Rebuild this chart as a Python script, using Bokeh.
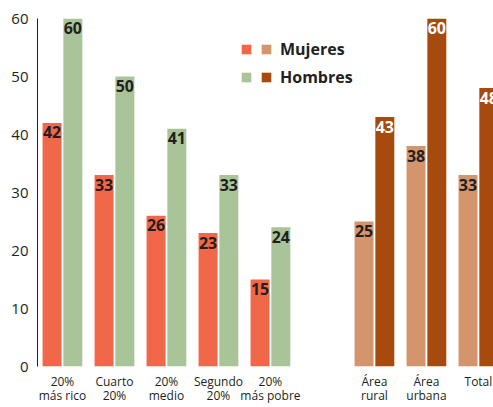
import numpy as np
from bokeh.plotting import figure
from bokeh.models import Range1d, FixedTicker, Legend, LegendItem, ColumnDataSource
from bokeh.core.properties import value
from bokeh.embed import file_html
from bokeh.resources import INLINE

# ---- data ----
quintiles = ["20%\nmás rico", "Cuarto\n20%", "20%\nmedio", "Segundo\n20%", "20%\nmás pobre"]
areas = ["Área\nrural", "Área\nurbana", "Total"]
mujeres_quintil = [42, 33, 26, 23, 15]
hombres_quintil = [60, 50, 41, 33, 24]
mujeres_area = [25, 38, 33]
hombres_area = [43, 60, 48]
y_ticks = [0, 10, 20, 30, 40, 50, 60]
series_names = ["Mujeres", "Hombres"]

# ---- styles ----
C_MQ = "#F1674A"
C_HQ = "#A8C498"
C_MA = "#D4956D"
C_HA = "#A64A0D"
DARK = "#231F20"
FONT = "Open Sans"
BAR_W = 0.365
DODGE = 0.2

# positions: quintiles then a one-slot gap then areas
xq = np.arange(len(quintiles)).astype(float)
xa = len(quintiles) + 1 + np.arange(len(areas)).astype(float)

p = figure(width=493, height=407,
           x_range=Range1d(-0.48, 8.29), y_range=Range1d(0, 60),
           output_backend="svg", toolbar_location=None,
           min_border_left=37, min_border_right=0, min_border_top=18, min_border_bottom=41)
p.outline_line_color = None
p.xgrid.grid_line_color = None
p.ygrid.grid_line_color = None
p.background_fill_color = "white"

src_mq = ColumnDataSource(dict(x=xq - DODGE, top=mujeres_quintil, lab=[str(v) for v in mujeres_quintil]))
src_hq = ColumnDataSource(dict(x=xq + DODGE, top=hombres_quintil, lab=[str(v) for v in hombres_quintil]))
src_ma = ColumnDataSource(dict(x=xa - DODGE, top=mujeres_area, lab=[str(v) for v in mujeres_area]))
src_ha = ColumnDataSource(dict(x=xa + DODGE, top=hombres_area, lab=[str(v) for v in hombres_area]))

r_mq = p.vbar(x="x", top="top", width=BAR_W, bottom=0, source=src_mq, fill_color=C_MQ, line_color=None)
r_hq = p.vbar(x="x", top="top", width=BAR_W, bottom=0, source=src_hq, fill_color=C_HQ, line_color=None)
r_ma = p.vbar(x="x", top="top", width=BAR_W, bottom=0, source=src_ma, fill_color=C_MA, line_color=None)
r_ha = p.vbar(x="x", top="top", width=BAR_W, bottom=0, source=src_ha, fill_color=C_HA, line_color=None)

for src, col in [(src_mq, DARK), (src_hq, DARK), (src_ma, DARK), (src_ha, "white")]:
    p.text(x="x", y="top", text="lab", source=src, text_font=value(FONT), text_font_style="bold",
           text_font_size="16px", text_color=col, text_align="center", text_baseline="top", y_offset=3.5)

# y axis
p.yaxis.ticker = FixedTicker(ticks=y_ticks)
p.yaxis.major_tick_line_color = None
p.yaxis.minor_tick_line_color = None
p.yaxis.axis_line_color = DARK
p.yaxis.major_label_text_font = FONT
p.yaxis.major_label_text_font_size = "15px"
p.yaxis.major_label_text_color = DARK
p.yaxis.major_label_standoff = 3

# x axis with category labels
ticks_x = list(xq) + list(xa)
p.xaxis.ticker = FixedTicker(ticks=ticks_x)
p.xaxis.major_label_overrides = {float(t): lab for t, lab in zip(ticks_x, quintiles + areas)}
p.xaxis.axis_line_color = None
p.xaxis.major_tick_line_color = None
p.xaxis.minor_tick_line_color = None
p.xaxis.major_label_text_font = FONT
p.xaxis.major_label_text_font_size = "12px"
p.xaxis.major_label_text_color = DARK
p.xaxis.major_label_text_line_height = 0.88
p.xaxis.major_label_standoff = 0

# legend: two swatch columns
common = dict(glyph_width=12, glyph_height=12, label_height=22, spacing=6, padding=0, margin=0,
              border_line_color=None, background_fill_alpha=0, label_text_font=FONT,
              label_text_font_style="bold", label_text_font_size="16px", label_text_color=DARK)
leg1 = Legend(items=[LegendItem(label="", renderers=[r_mq]), LegendItem(label="", renderers=[r_hq])],
              location=(203, 278), label_standoff=0, label_width=0, **common)
leg2 = Legend(items=[LegendItem(label=series_names[0], renderers=[r_ma]),
                     LegendItem(label=series_names[1], renderers=[r_ha])],
              location=(223, 278), label_standoff=8, **common)
p.add_layout(leg1, "center")
p.add_layout(leg2, "center")

open("out.html", "w").write(file_html(p, INLINE))
